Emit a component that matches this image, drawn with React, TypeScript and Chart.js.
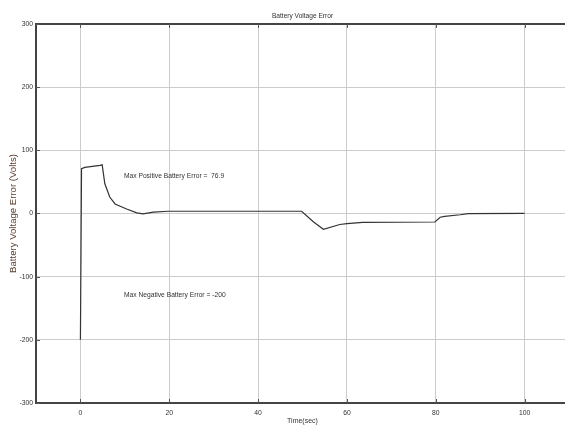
import React, { useEffect, useRef } from "react";
import { Chart, registerables } from "chart.js";

Chart.register(...registerables);

const chartTitle = "Battery Voltage Error";
const xTitle = "Time(sec)";
const yTitle = "Battery Voltage Error (Volts)";
const xTicks = [0, 20, 40, 60, 80, 100];
const yTicks = [-300, -200, -100, 0, 100, 200, 300];
const timeSec = [0, 0.25, 1, 4.4, 4.9, 5.5, 6.6, 7.8, 10.4, 12.7, 14.1, 16.4, 19.8, 49.8, 52.5, 54.7, 58.4, 60, 63.6, 79.8, 81, 82, 85.5, 87.3, 100];
const errorVolts = [-200, 71, 73, 76, 77, 47, 26, 15, 7, 1, -0.5, 2, 3.5, 3.5, -13.5, -25, -17.5, -16, -14, -13.5, -6, -4.5, -2, -0.3, 0];
const notes = [
  { text: "Max Positive Battery Error =  76.9", x: 9.8, y: 59 },
  { text: "Max Negative Battery Error = -200", x: 9.8, y: -130 },
];

const FONT = "'Liberation Sans Narrow', 'Arial Narrow', 'Liberation Sans', Arial, sans-serif";

export default function App() {
  const ref = useRef<HTMLCanvasElement | null>(null);
  useEffect(() => {
    if (!ref.current) return;
    const frame = {
      id: "frame",
      afterDraw(chart: any) {
        const { ctx, chartArea } = chart;
        const xs = chart.scales.x;
        const ys = chart.scales.y;
        ctx.save();
        ctx.strokeStyle = "#444";
        ctx.lineWidth = 2;
        ctx.beginPath();
        ctx.moveTo(chartArea.left, chartArea.top);
        ctx.lineTo(chartArea.right, chartArea.top);
        ctx.stroke();
        ctx.lineWidth = 1;
        ctx.strokeStyle = "#555";
        ctx.beginPath();
        xTicks.forEach((v) => {
          const px = Math.round(xs.getPixelForValue(v)) + 0.5;
          ctx.moveTo(px, chartArea.top);
          ctx.lineTo(px, chartArea.top + 4);
          ctx.moveTo(px, chartArea.bottom);
          ctx.lineTo(px, chartArea.bottom - 4);
        });
        yTicks.forEach((v) => {
          const py = Math.round(ys.getPixelForValue(v)) + 0.5;
          ctx.moveTo(chartArea.left, py);
          ctx.lineTo(chartArea.left + 4, py);
        });
        ctx.stroke();
        ctx.fillStyle = "#333";
        ctx.font = `6.7px ${FONT}`;
        ctx.textBaseline = "middle";
        ctx.textAlign = "left";
        notes.forEach((n) => {
          ctx.fillText(n.text, xs.getPixelForValue(n.x), ys.getPixelForValue(n.y));
        });
        ctx.restore();
      },
    };
    const chart = new Chart(ref.current, {
      type: "line",
      data: {
        datasets: [
          {
            data: timeSec.map((t, i) => ({ x: t, y: errorVolts[i] })),
            borderColor: "#333",
            borderWidth: 1.2,
            pointRadius: 0,
            tension: 0,
            fill: false,
          },
        ],
      },
      options: {
        animation: false,
        responsive: false,
        devicePixelRatio: 1,
        layout: { padding: { left: 0, right: 6, top: 0, bottom: 0 } },
        plugins: {
          legend: { display: false },
          tooltip: { enabled: false },
          title: {
            display: true,
            fullSize: false,
            text: chartTitle,
            color: "#333",
            font: { family: FONT, size: 6.6, weight: "normal" },
            padding: { top: 12, bottom: 4 },
          },
        },
        scales: {
          x: {
            type: "linear",
            min: -10,
            max: 110,
            afterBuildTicks: (s: any) => {
              s.ticks = xTicks.map((v) => ({ value: v }));
            },
            afterFit: (s: any) => {
              s.height = 23;
            },
            grid: { color: "#cccccc", lineWidth: 1, drawTicks: false },
            border: { display: true, color: "#444", width: 2 },
            ticks: {
              color: "#333",
              padding: 6,
              font: { family: FONT, size: 6.8 },
              maxRotation: 0,
            },
            title: {
              display: true,
              text: xTitle,
              color: "#333",
              font: { family: FONT, size: 7 },
              padding: { top: 0, bottom: 1 },
            },
          },
          y: {
            type: "linear",
            min: -300,
            max: 300,
            afterBuildTicks: (s: any) => {
              s.ticks = yTicks.map((v) => ({ value: v }));
            },
            afterFit: (s: any) => {
              s.width = 36;
            },
            grid: { color: "#cccccc", lineWidth: 1, drawTicks: false },
            border: { display: true, color: "#444", width: 2 },
            ticks: {
              color: "#333",
              padding: 3,
              font: { family: FONT, size: 6.8 },
            },
            title: {
              display: true,
              text: yTitle,
              color: "#5a4030",
              font: { family: FONT, size: 9.6 },
              padding: { top: 8, bottom: 0 },
            },
          },
        },
      },
      plugins: [frame],
    } as any);
    return () => chart.destroy();
  }, []);
  return (
    <div
      style={{
        position: "fixed",
        left: 0,
        top: 0,
        width: 565,
        height: 426,
        overflow: "hidden",
        background: "#fff",
      }}
    >
      <canvas ref={ref} width={575} height={426} style={{ width: 575, height: 426, display: "block" }} />
    </div>
  );
}
